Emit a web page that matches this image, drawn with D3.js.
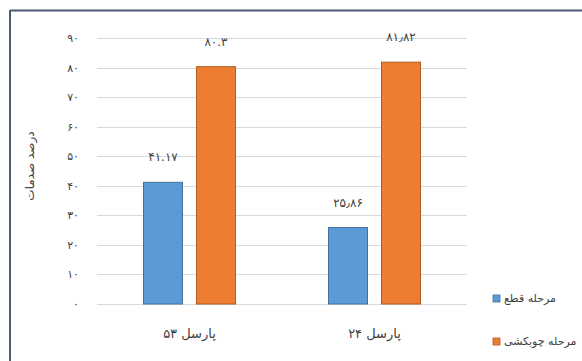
<!DOCTYPE html>
<html>
<head>
<meta charset="utf-8">
<script src="https://cdn.jsdelivr.net/npm/d3@7"></script>
<style>
  html, body { margin: 0; padding: 0; background: #fff; }
  svg { display: block; }
  text { font-family: "DejaVu Sans", sans-serif; }
</style>
</head>
<body>
<svg id="chart" width="582" height="361"></svg>
<script>
// Parcels and harvesting stages
const categories = ["پارسل ۵۳", "پارسل ۲۴"];
const seriesNames = ["مرحله قطع", "مرحله چوبکشی"];
const cuttingValues = [41.17, 25.86];
const skiddingValues = [80.3, 81.82];
const valueLabels = [["۴۱.۱۷", "۲۵٫۸۶"], ["۸۰.۳", "۸۱٫۸۲"]];
const yTicks = [0, 10, 20, 30, 40, 50, 60, 70, 80, 90];
const yTitle = "درصد صدمات";

const colors = ["#5b9bd5", "#ed7d31"];
const strokes = ["#41719c", "#ae5a21"];

const faDigits = "۰۱۲۳۴۵۶۷۸۹";
const toFa = s => String(s).replace(/\d/g, d => faDigits[+d]);

const series = [cuttingValues, skiddingValues];
const rows = categories.map((c, i) => ({
  cat: c,
  vals: series.map((s, k) => ({ key: seriesNames[k], k, v: s[i], label: valueLabels[k][i] }))
}));

const svg = d3.select("#chart");

// outer frame (top and left edges visible)
svg.append("line").attr("x1", 10).attr("x2", 582).attr("y1", 10.5).attr("y2", 10.5)
  .attr("stroke", "#4d5b78").attr("stroke-width", 2);
svg.append("line").attr("x1", 10).attr("x2", 10).attr("y1", 10).attr("y2", 361)
  .attr("stroke", "#4d5b78").attr("stroke-width", 2);

const y = d3.scaleLinear().domain([0, 90]).range([304, 38]);
const x0 = d3.scaleBand().domain(categories).range([97, 467]).padding(0);
const x1 = d3.scaleBand().domain(seriesNames).range([0, x0.bandwidth()])
  .paddingInner(0.2453).paddingOuter(0.868);

// gridlines
svg.append("g").selectAll("line").data(yTicks).join("line")
  .attr("x1", 97).attr("x2", 467)
  .attr("y1", d => Math.round(y(d)) + 0.5).attr("y2", d => Math.round(y(d)) + 0.5)
  .attr("stroke", "#d9d9d9").attr("stroke-width", 1);

// y axis tick labels
const yAxis = d3.axisLeft(y).tickValues(yTicks).tickSize(0).tickPadding(0)
  .tickFormat(d => toFa(d));
svg.append("g").attr("transform", "translate(79,0)").call(yAxis)
  .call(g => g.select(".domain").remove())
  .selectAll("text")
  .attr("font-family", "DejaVu Sans, sans-serif")
  .attr("font-size", 11).attr("fill", "#404040");

// y axis title
svg.append("text")
  .attr("transform", "translate(34,166) rotate(-90)")
  .attr("text-anchor", "middle")
  .attr("font-size", 12).attr("fill", "#404040")
  .text(yTitle);

// bars
const groups = svg.append("g").selectAll("g").data(rows).join("g")
  .attr("transform", d => `translate(${x0(d.cat)},0)`);

groups.selectAll("rect").data(d => d.vals).join("rect")
  .attr("x", d => x1(d.key) + 0.5)
  .attr("width", x1.bandwidth() - 1)
  .attr("y", d => y(d.v))
  .attr("height", d => y(0) - y(d.v))
  .attr("fill", d => colors[d.k])
  .attr("stroke", d => strokes[d.k])
  .attr("stroke-width", 1);

// value labels
groups.selectAll("text").data(d => d.vals).join("text")
  .attr("x", d => x1(d.key) + x1.bandwidth() / 2)
  .attr("y", d => y(d.v) - 21)
  .attr("text-anchor", "middle")
  .attr("font-size", 12).attr("fill", "#404040")
  .text(d => d.label);

// category labels
svg.append("g").selectAll("text").data(categories).join("text")
  .attr("x", d => x0(d) + x0.bandwidth() / 2)
  .attr("y", 338)
  .attr("text-anchor", "middle")
  .attr("font-size", 13).attr("fill", "#404040")
  .text(d => d);

// legend
const legend = svg.append("g").selectAll("g").data(seriesNames).join("g")
  .attr("transform", (d, i) => `translate(493,${295 + i * 43})`);
legend.append("rect").attr("width", 7).attr("height", 7)
  .attr("fill", (d, i) => colors[i]).attr("stroke", (d, i) => strokes[i]).attr("stroke-width", 0.8);
legend.append("text").attr("x", 11).attr("y", 7)
  .attr("font-size", 11).attr("fill", "#404040")
  .text(d => d);
</script>
</body>
</html>
